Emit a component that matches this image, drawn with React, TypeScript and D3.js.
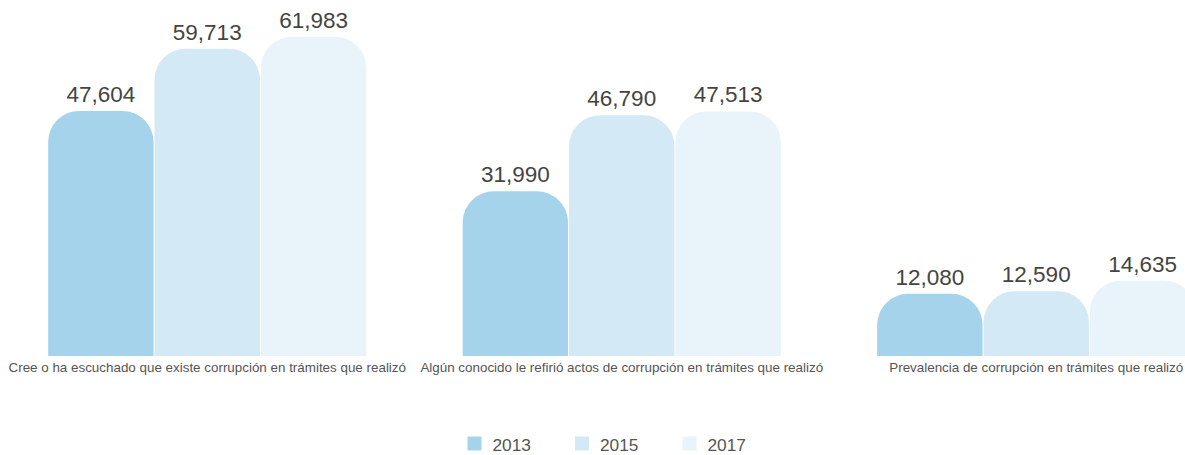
import React from "react";
import * as d3 from "d3";

const categories = [
  "Cree o ha escuchado que existe corrupción en trámites que realizó",
  "Algún conocido le refirió actos de corrupción en trámites que realizó",
  "Prevalencia de corrupción en trámites que realizó",
];
const years = ["2013", "2015", "2017"];
const values2013 = [47604, 31990, 12080];
const values2015 = [59713, 46790, 12590];
const values2017 = [61983, 47513, 14635];
const colors = ["#a6d3ec", "#d3e9f6", "#e8f3fa"];

const W = 1185;
const H = 455;
const baseline = 356;
const topY = 37;

function topRoundedPath(x: number, y: number, w: number, h: number, r: number) {
  const rr = Math.min(r, w / 2, h);
  return `M${x},${y + h}V${y + rr}A${rr},${rr} 0 0 1 ${x + rr},${y}H${x + w - rr}A${rr},${rr} 0 0 1 ${x + w},${y + rr}V${y + h}Z`;
}

export default function App() {
  const series = [values2013, values2015, values2017];
  const x0 = d3.scaleBand<string>().domain(categories).range([0, 1243.5]).paddingInner(0.23).paddingOuter(0.115);
  const x1 = d3.scaleBand<string>().domain(years).range([0, x0.bandwidth()]);
  const y = d3.scaleLinear().domain([0, d3.max(values2017) as number]).range([baseline, topY]);
  const fmt = d3.format(",");

  return (
    <svg width={W} height={H} style={{ position: "absolute", left: 0, top: 0, fontFamily: "'Liberation Sans', Arial, Helvetica, sans-serif" }}>
      {categories.map((c, ci) => {
        const gx = x0(c) as number;
        return (
          <g key={c}>
            {years.map((yr, si) => {
              const v = series[si][ci];
              const bx = gx + (x1(yr) as number);
              const bw = x1.bandwidth();
              const ty = y(v);
              return (
                <g key={yr}>
                  <path d={topRoundedPath(bx + 0.5, ty, bw - 1, baseline - ty, 31)} fill={colors[si]} />
                  <text x={bx + bw / 2} y={ty - 9} textAnchor="middle" fontSize={22.5} fill="#444">
                    {fmt(v)}
                  </text>
                </g>
              );
            })}
            <text x={gx + x0.bandwidth() / 2} y={372} textAnchor="middle" fontSize={13.4} fill="#555">
              {c}
            </text>
          </g>
        );
      })}
      {years.map((yr, i) => (
        <g key={yr} transform={`translate(${467.5 + i * 107.5},436.5)`}>
          <rect width={14} height={14} fill={colors[i]} />
          <text x={25} y={14.5} fontSize={17.3} fill="#555">{yr}</text>
        </g>
      ))}
    </svg>
  );
}
